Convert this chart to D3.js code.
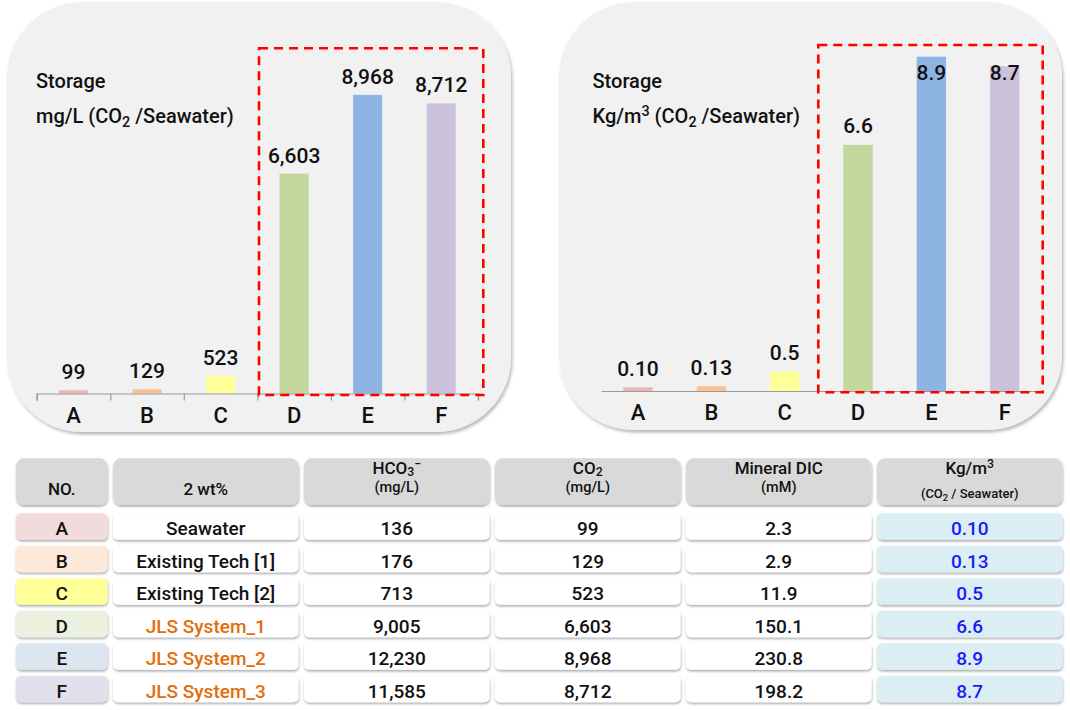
<!DOCTYPE html>
<html><head><meta charset="utf-8">
<script src="https://cdn.jsdelivr.net/npm/d3@7/dist/d3.min.js"></script>
<style>
body{margin:0;background:#fff}
svg{display:block;font-family:Roboto,"Noto Sans",Arial,sans-serif}
</style>
</head><body>
<svg id="chart" width="1070" height="710"></svg>
<script>
// ---------------- data ----------------
const categories = ["A", "B", "C", "D", "E", "F"];
const storageMgL = [99, 129, 523, 6603, 8968, 8712];
const storageKgBars = [0.099, 0.129, 0.523, 6.603, 8.968, 8.712];
const storageKgLabels = ["0.10", "0.13", "0.5", "6.6", "8.9", "8.7"];
const barColors = ["#e6b9b8", "#fac090", "#ffff99", "#c3d69b", "#8eb4e3", "#ccc1da"];
const rowColors = ["#f2dcdb", "#fde9d9", "#ffff99", "#ebf1de", "#dce6f1", "#e4dfec"];
const sampleNames = ["Seawater", "Existing Tech [1]", "Existing Tech [2]", "JLS System_1", "JLS System_2", "JLS System_3"];
const highlighted = [false, false, false, true, true, true];
const hco3 = [136, 176, 713, 9005, 12230, 11585];
const co2 = [99, 129, 523, 6603, 8968, 8712];
const mineralDIC = [2.3, 2.9, 11.9, 150.1, 230.8, 198.2];
const kgm3 = ["0.10", "0.13", "0.5", "6.6", "8.9", "8.7"];
const headers = [["NO."], ["2 wt%"], ["HCO_{3}^{−}", "(mg/L)"], ["CO_{2}", "(mg/L)"], ["Mineral DIC", "(mM)"], ["Kg/m^{3}", "(CO_{2} / Seawater)"]];
const leftTitle = ["Storage", "mg/L (CO_{2} /Seawater)"];
const rightTitle = ["Storage", "Kg/m^{3} (CO_{2} /Seawater)"];

// ---------------- helpers ----------------
const svg = d3.select("#chart");
const defs = svg.append("defs");
const f1 = defs.append("filter").attr("id", "panelShadow").attr("x", "-5%").attr("y", "-5%").attr("width", "112%").attr("height", "115%");
f1.append("feDropShadow").attr("dx", 1.5).attr("dy", 2.5).attr("stdDeviation", 1.8).attr("flood-color", "#000").attr("flood-opacity", 0.28);
const f2 = defs.append("filter").attr("id", "cellShadow").attr("x", "-5%").attr("y", "-20%").attr("width", "110%").attr("height", "150%");
f2.append("feDropShadow").attr("dx", 0.5).attr("dy", 1.6).attr("stdDeviation", 1).attr("flood-color", "#000").attr("flood-opacity", 0.35);

// appends one line of rich text (with _{sub} and ^{sup}) into a text element
function richLine(textSel, str, fs, x, y, subShift = 0.22) {
  const parts = str.split(/(_\{[^}]*\}|\^\{[^}]*\})/).filter(s => s.length);
  let shift = 0;
  parts.forEach((p, k) => {
    let t = p, target = 0, size = fs;
    if (p.startsWith("_{")) { t = p.slice(2, -1); target = fs * subShift; size = fs * 0.72; }
    else if (p.startsWith("^{")) { t = p.slice(2, -1); target = -fs * 0.36; size = fs * 0.72; }
    const ts = textSel.append("tspan").attr("font-size", size).text(t);
    if (k === 0) ts.attr("x", x).attr("y", y + target);
    else ts.attr("dy", target - shift);
    shift = target;
  });
  return textSel;
}

// ---------------- panels ----------------
svg.append("rect").attr("x", 7).attr("y", 2).attr("width", 504).attr("height", 430)
  .attr("rx", 75).attr("fill", "#f1f1f1").attr("filter", "url(#panelShadow)");
svg.append("rect").attr("x", 559).attr("y", 2).attr("width", 503).attr("height", 428)
  .attr("rx", 75).attr("fill", "#f1f1f1").attr("filter", "url(#panelShadow)");

// ---------------- left chart ----------------
const xL = d3.scaleBand().domain(categories).range([36.7, 478]);
const yL = d3.scaleLinear().domain([0, 10000]).range([393.5, 60.5]);
const bwL = xL.bandwidth() * 0.395;
const gL = svg.append("g");

gL.selectAll("rect.bar").data(categories).join("rect").attr("class", "bar")
  .attr("x", c => xL(c) + (xL.bandwidth() - bwL) / 2)
  .attr("y", (c, i) => yL(storageMgL[i]))
  .attr("width", bwL)
  .attr("height", (c, i) => yL(0) - yL(storageMgL[i]))
  .attr("fill", (c, i) => barColors[i]);

const boundL = d3.scaleLinear().domain([0, categories.length]).range(xL.range());
const axL = gL.append("g").attr("transform", `translate(0,${yL(0)})`)
  .call(d3.axisBottom(boundL).ticks(categories.length).tickSize(7).tickFormat(""));
axL.selectAll("path,line").attr("stroke", "#9a9a9a").attr("stroke-width", 1.2);

gL.selectAll("text.val").data(categories).join("text").attr("class", "val")
  .attr("x", c => xL(c) + xL.bandwidth() / 2)
  .attr("y", (c, i) => yL(storageMgL[i]) - 11)
  .attr("text-anchor", "middle").attr("font-size", 21).attr("font-weight", 500).attr("fill", "#111")
  .text((c, i) => d3.format(",")(storageMgL[i]));

gL.selectAll("text.cat").data(categories).join("text").attr("class", "cat")
  .attr("x", c => xL(c) + xL.bandwidth() / 2).attr("y", 423)
  .attr("text-anchor", "middle").attr("font-size", 22).attr("font-weight", 500).attr("fill", "#111")
  .text(c => c);

leftTitle.forEach((t, i) => {
  richLine(gL.append("text").attr("font-weight", 500).attr("fill", "#111"), t, 20, 36, 87.5 + i * 35.5);
});

svg.append("rect").attr("x", 259).attr("y", 48.3).attr("width", 224.3).attr("height", 346.7)
  .attr("fill", "none").attr("stroke", "#ff0000").attr("stroke-width", 2.6).attr("stroke-dasharray", "9,6");

// ---------------- right chart ----------------
const xR = d3.scaleBand().domain(categories).range([601.3, 1041.4]);
const yR = d3.scaleLinear().domain([0, 9]).range([391, 55.5]);
const bwR = xR.bandwidth() * 0.4;
const gR = svg.append("g");

gR.selectAll("rect.bar").data(categories).join("rect").attr("class", "bar")
  .attr("x", c => xR(c) + (xR.bandwidth() - bwR) / 2)
  .attr("y", (c, i) => yR(storageKgBars[i]))
  .attr("width", bwR)
  .attr("height", (c, i) => yR(0) - yR(storageKgBars[i]))
  .attr("fill", (c, i) => barColors[i]);

const axR = gR.append("g").attr("transform", `translate(0,${yR(0)})`)
  .call(d3.axisBottom(xR).tickSize(0).tickSizeOuter(0).tickFormat(""));
axR.selectAll("path").attr("stroke", "#9a9a9a").attr("stroke-width", 1.2);

gR.selectAll("text.val").data(categories).join("text").attr("class", "val")
  .attr("x", c => xR(c) + xR.bandwidth() / 2)
  .attr("y", (c, i) => Math.max(yR(storageKgBars[i]) - 11.5, 80))
  .attr("text-anchor", "middle").attr("font-size", 21).attr("font-weight", 500).attr("fill", "#111")
  .text((c, i) => storageKgLabels[i]);

gR.selectAll("text.cat").data(categories).join("text").attr("class", "cat")
  .attr("x", c => xR(c) + xR.bandwidth() / 2).attr("y", 420)
  .attr("text-anchor", "middle").attr("font-size", 22).attr("font-weight", 500).attr("fill", "#111")
  .text(c => c);

rightTitle.forEach((t, i) => {
  richLine(gR.append("text").attr("font-weight", 500).attr("fill", "#111"), t, 20, 592.5, 87.5 + i * 35.5);
});

svg.append("rect").attr("x", 818.3).attr("y", 45).attr("width", 224.4).attr("height", 347.3)
  .attr("fill", "none").attr("stroke", "#ff0000").attr("stroke-width", 2.6).attr("stroke-dasharray", "9,6");

// ---------------- table ----------------
const colX = [16, 113, 304, 495, 686, 877];
const colW = [91.5, 185.5, 185.5, 185.5, 185.5, 185.5];
const headY = 458.3, headH = 46.7;
const rowY0 = 513.3, rowPitch = 32.5, rowH = 26.5;
const gT = svg.append("g");

headers.forEach((h, j) => {
  gT.append("rect").attr("x", colX[j]).attr("y", headY).attr("width", colW[j]).attr("height", headH)
    .attr("rx", 8).attr("fill", "#d9d9d9").attr("filter", "url(#cellShadow)");
  const cx = colX[j] + colW[j] / 2;
  const txt = gT.append("text").attr("text-anchor", "middle").attr("font-weight", 500).attr("fill", "#111");
  if (h.length === 1) {
    richLine(txt, h[0], 17, cx, 495);
  } else {
    richLine(txt, h[0], 17, cx, 474, 0.1);
    if (j === 5) richLine(txt, h[1], 13, cx, 498);
    else richLine(txt, h[1], 14.5, cx, 492);
  }
});

categories.forEach((c, i) => {
  const y = rowY0 + i * rowPitch;
  const cells = [
    { text: c, fill: rowColors[i], color: "#111" },
    { text: sampleNames[i], fill: "#ffffff", color: highlighted[i] ? "#e46c0a" : "#111" },
    { text: d3.format(",")(hco3[i]), fill: "#ffffff", color: "#111" },
    { text: d3.format(",")(co2[i]), fill: "#ffffff", color: "#111" },
    { text: d3.format(".1f")(mineralDIC[i]), fill: "#ffffff", color: "#111" },
    { text: kgm3[i], fill: "#daeef3", color: "#1a1aff" }
  ];
  cells.forEach((cell, j) => {
    gT.append("rect").attr("x", colX[j]).attr("y", y).attr("width", colW[j]).attr("height", rowH)
      .attr("rx", 5).attr("fill", cell.fill).attr("filter", "url(#cellShadow)");
    gT.append("text").attr("x", colX[j] + colW[j] / 2).attr("y", y + 22)
      .attr("text-anchor", "middle").attr("font-size", 19).attr("font-weight", 500)
      .attr("fill", cell.color).text(cell.text);
  });
});
</script>
</body></html>
